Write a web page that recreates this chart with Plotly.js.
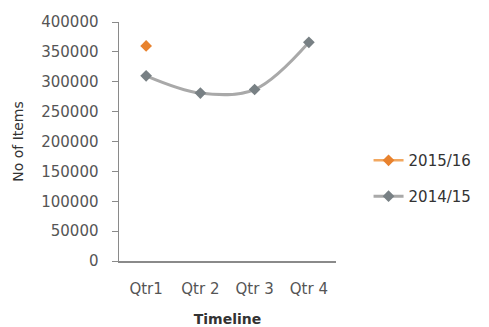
<!DOCTYPE html>
<html>
<head>
<meta charset="utf-8">
<script src="https://cdn.plot.ly/plotly-3.0.1.min.js"></script>
<style>html,body{margin:0;padding:0;background:#fff;}#chart{width:489px;height:327px;}</style>
</head>
<body>
<div id="chart"></div>
<script>
// Items handled per quarter
const quarters = ["Qtr1", "Qtr 2", "Qtr 3", "Qtr 4"];
const items1415 = [310000, 281000, 287000, 366000];
const items1516 = [360000];
const yTicks = [0, 50000, 100000, 150000, 200000, 250000, 300000, 350000, 400000];

const traces = [
  {
    name: "2015/16",
    legend: "legend",
    x: quarters.slice(0, items1516.length),
    y: items1516,
    mode: "lines+markers",
    line: {color: "#F2A860", width: 2.5},
    marker: {symbol: "diamond", size: 9, color: "#E8822E"}
  },
  {
    name: "2014/15",
    legend: "legend2",
    x: quarters,
    y: items1415,
    mode: "lines+markers",
    line: {color: "#A9A9A9", width: 3, shape: "spline", smoothing: 1},
    marker: {symbol: "diamond", size: 9, color: "#788084"}
  }
];

const legendFont = {family: "DejaVu Sans, sans-serif", size: 15, color: "#333333"};

const layout = {
  width: 489, height: 327,
  margin: {l: 119, r: 146, t: 22, b: 66},
  paper_bgcolor: "#ffffff", plot_bgcolor: "#ffffff",
  font: {family: "DejaVu Sans, sans-serif", size: 14, color: "#555555"},
  showlegend: true,
  legend: {x: 1.15, y: 0.42, xanchor: "left", yanchor: "middle",
           bgcolor: "rgba(0,0,0,0)", font: legendFont},
  legend2: {x: 1.15, y: 0.27, xanchor: "left", yanchor: "middle",
            bgcolor: "rgba(0,0,0,0)", font: legendFont},
  xaxis: {
    type: "category", categoryorder: "array", categoryarray: quarters,
    range: [-0.5, 3.5], showgrid: false, zeroline: false,
    showline: true, linecolor: "#8a8a8a", linewidth: 1.5,
    ticks: "", ticklabelstandoff: 13,
    tickfont: {size: 15, color: "#555555"},
    title: {text: "<b>Timeline</b>", font: {size: 14, color: "#333333"}, standoff: 20}
  },
  yaxis: {
    range: [0, 400000], tickvals: yTicks, ticktext: yTicks.map(String),
    showgrid: false, zeroline: false,
    showline: true, linecolor: "#8a8a8a", linewidth: 1.5,
    ticks: "outside", ticklen: 6, tickcolor: "#8a8a8a", ticklabelstandoff: 10,
    tickfont: {size: 15, color: "#555555"},
    title: {text: "No of Items", font: {size: 14, color: "#333333"}, standoff: 14}
  }
};

Plotly.newPlot("chart", traces, layout, {displayModeBar: false, staticPlot: true});
</script>
</body>
</html>
